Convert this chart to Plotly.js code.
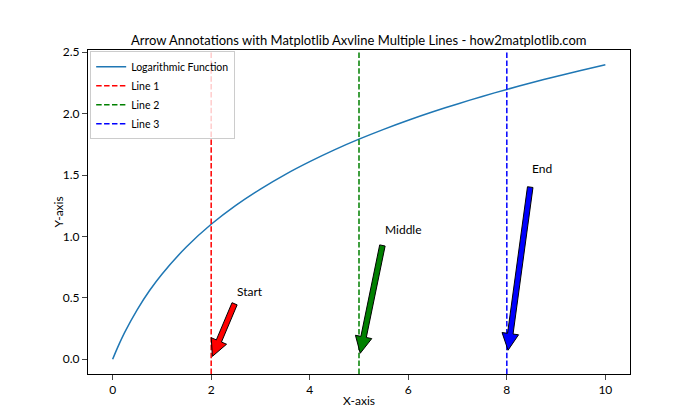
<!DOCTYPE html>
<html>
<head>
<meta charset="utf-8">
<script src="https://cdn.plot.ly/plotly-3.0.1.min.js"></script>
<style>html,body{margin:0;padding:0;background:#fff;}#chart{width:700px;height:420px;}</style>
</head>
<body>
<div id="chart"></div>
<script>
// Curve values
const curveX = [0, 0.1, 0.25, 0.5, 0.75, 1, 1.5, 2, 2.5, 3, 3.5, 4, 4.5, 5, 5.5, 6, 6.5, 7, 7.5, 8, 8.5, 9, 9.5, 10];
const curveY = [0, 0.095, 0.223, 0.405, 0.560, 0.693, 0.916, 1.099, 1.253, 1.386, 1.504, 1.609, 1.705, 1.792, 1.872, 1.946, 2.015, 2.079, 2.140, 2.197, 2.251, 2.303, 2.351, 2.398];

// Vertical lines
const vlineX = [2, 5, 8];
const vlineNames = ["Line 1", "Line 2", "Line 3"];
const vlineColors = ["#ff0000", "#008000", "#0000ff"];

// Annotations
const annLabels = ["Start", "Middle", "End"];
const annTextX = [2.5, 5.5, 8.5];
const annTextY = [0.5, 1.0, 1.5];
const annTargetX = [2, 5, 8];
const annTargetY = [0, 0, 0];

const xRange = [-0.5, 10.5];
const yRange = [-0.1199, 2.518];
const W = 700, H = 420;
const M = {l: 87.5, r: 70, t: 50.4, b: 46.2};
const FONT = "Lato, sans-serif";

const PW = W - M.l - M.r, PH = H - M.t - M.b;
const sx = PW / (xRange[1] - xRange[0]);
const sy = PH / (yRange[1] - yRange[0]);

function arrowPath(tx, ty, px, py) {
  const descent = 3;
  let S = [(tx - px) * sx, -(ty - py) * sy + descent];
  let E = [0, 0];
  const shrink = 0.05;
  const d = [E[0] - S[0], E[1] - S[1]];
  const S2 = [S[0] + d[0] * shrink, S[1] + d[1] * shrink];
  const E2 = [E[0] - d[0] * shrink, E[1] - d[1] * shrink];
  const L = Math.hypot(E2[0] - S2[0], E2[1] - S2[1]);
  const u = [(E2[0] - S2[0]) / L, (E2[1] - S2[1]) / L];
  const n = [-u[1], u[0]];
  const w = 4 * 100 / 72, hw = 12 * 100 / 72, hl = 12 * 100 / 72;
  const B = [E2[0] - u[0] * hl, E2[1] - u[1] * hl];
  const pts = [
    [S2[0] + n[0] * w / 2, S2[1] + n[1] * w / 2],
    [B[0] + n[0] * w / 2, B[1] + n[1] * w / 2],
    [B[0] + n[0] * hw / 2, B[1] + n[1] * hw / 2],
    E2,
    [B[0] - n[0] * hw / 2, B[1] - n[1] * hw / 2],
    [B[0] - n[0] * w / 2, B[1] - n[1] * w / 2],
    [S2[0] - n[0] * w / 2, S2[1] - n[1] * w / 2]
  ];
  return pts.map((p, i) => (i ? "L" : "M") + (px + p[0] / sx) + "," + (py - p[1] / sy)).join(" ") + " Z";
}

const traces = [{
  x: curveX, y: curveY, type: "scatter", mode: "lines",
  line: {color: "#1f77b4", width: 1.5, shape: "spline", smoothing: 0.8},
  name: "Logarithmic Function"
}];

const shapes = [];
vlineX.forEach((xv, i) => {
  shapes.push({
    type: "line", xref: "x", yref: "y domain", x0: xv, x1: xv, y0: 0, y1: 1,
    line: {color: vlineColors[i], width: 1.5, dash: "5.5px,2.4px"},
    name: vlineNames[i], showlegend: true, legendrank: 1001 + i
  });
});
annLabels.forEach((lab, i) => {
  shapes.push({
    type: "path", xref: "x", yref: "y",
    path: arrowPath(annTextX[i], annTextY[i], annTargetX[i], annTargetY[i]),
    fillcolor: vlineColors[i], line: {color: "#000", width: 1}
  });
});

const annotations = annLabels.map((lab, i) => ({
  x: annTextX[i], y: annTextY[i], xref: "x", yref: "y", text: lab,
  showarrow: false, xanchor: "left", yanchor: "bottom", yshift: -3, xshift: -1,
  font: {family: FONT, size: 12, color: "#000"}
}));
// axis titles
annotations.push({
  xref: "paper", yref: "paper", x: 0.5, y: -(400 - (H - M.b)) / PH, text: "X-axis",
  showarrow: false, xanchor: "center", yanchor: "middle", font: {family: FONT, size: 12, color: "#000"}
});
annotations.push({
  xref: "paper", yref: "paper", x: (57 - M.l) / PW, y: 0.5, text: "Y-axis", textangle: -90,
  showarrow: false, xanchor: "center", yanchor: "middle", font: {family: FONT, size: 12, color: "#000"}
});

const layout = {
  width: W, height: H, margin: M,
  paper_bgcolor: "#fff", plot_bgcolor: "#fff",
  font: {family: FONT, size: 12, color: "#000"},
  title: {text: "Arrow Annotations with Matplotlib Axvline Multiple Lines - how2matplotlib.com",
          x: 0.5125, xanchor: "center", y: 1 - 45 / H, yanchor: "bottom",
          font: {family: FONT, size: 13, color: "#000"}},
  xaxis: {range: xRange, tickvals: [0, 2, 4, 6, 8, 10], ticks: "outside", ticklen: 5, tickwidth: 1,
          showline: true, mirror: true, linecolor: "#000", linewidth: 1, showgrid: false, zeroline: false},
  yaxis: {range: yRange, tickvals: [0, 0.5, 1, 1.5, 2, 2.5], ticktext: ["0.0","0.5","1.0","1.5","2.0","2.5"],
          ticks: "outside", ticklen: 5, tickwidth: 1,
          showline: true, mirror: true, linecolor: "#000", linewidth: 1, showgrid: false, zeroline: false},
  legend: {x: 0.004, y: 0.996, xanchor: "left", yanchor: "top", bgcolor: "rgba(255,255,255,0.8)",
           bordercolor: "#cccccc", borderwidth: 1, font: {size: 10.5}, tracegroupgap: 0},
  shapes: shapes, annotations: annotations, showlegend: true
};

Plotly.newPlot("chart", traces, layout, {displayModeBar: false, staticPlot: true});
</script>
</body>
</html>
